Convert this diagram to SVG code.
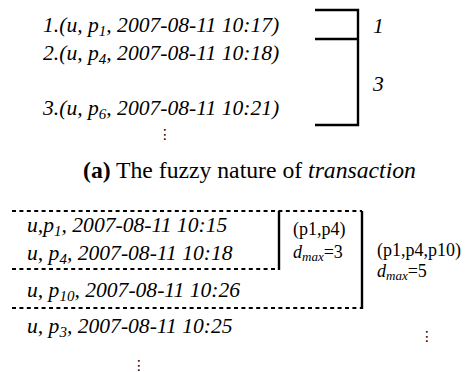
<svg xmlns="http://www.w3.org/2000/svg" width="467" height="372" viewBox="0 0 467 372">
<style>
text{font-family:'Liberation Serif','Times New Roman',serif;fill:#000}
.t{font-style:italic;font-size:21.6px}
.s{font-size:15px}
.r{font-size:18px}
.cap{font-size:23.7px}
.dots{font-family:'DejaVu Sans',sans-serif;font-size:14px;text-anchor:middle}
.solid{stroke:#000;stroke-width:2.4;fill:none}
.dash{stroke:#000;stroke-width:2.2;fill:none;stroke-dasharray:4 3.4}
</style>
<rect width="467" height="372" fill="#fff"/>
<g id="top-rows">
<text class="t" x="43" y="32">1.(u, p<tspan class="s" dy="4">1</tspan><tspan dy="-4">, 2007-08-11 10:17)</tspan></text>
<text class="t" x="43" y="60">2.(u, p<tspan class="s" dy="4">4</tspan><tspan dy="-4">, 2007-08-11 10:18)</tspan></text>
<text class="t" x="43" y="115">3.(u, p<tspan class="s" dy="4">6</tspan><tspan dy="-4">, 2007-08-11 10:21)</tspan></text>
<text class="dots" x="165" y="139">⋮</text>
</g>
<g id="bracket">
<path class="solid" d="M315,10H358V125H315M315,39H358"/>
<text class="t" x="373" y="33">1</text>
<text class="t" x="373" y="91">3</text>
</g>
<g id="caption">
<text class="cap" x="83" y="178"><tspan font-weight="bold">(a)</tspan><tspan x="116">The fuzzy nature of </tspan><tspan font-style="italic">transaction</tspan></text>
</g>
<g id="bottom-rows">
<text class="t" x="27" y="232">u,p<tspan class="s" dy="4">1</tspan><tspan dy="-4">, 2007-08-11 10:15</tspan></text>
<text class="t" x="27" y="260">u, p<tspan class="s" dy="4">4</tspan><tspan dy="-4">, 2007-08-11 10:18</tspan></text>
<text class="t" x="27" y="297">u, p<tspan class="s" dy="4">10</tspan><tspan dy="-4">, 2007-08-11 10:26</tspan></text>
<text class="t" x="27" y="333">u, p<tspan class="s" dy="4">3</tspan><tspan dy="-4">, 2007-08-11 10:25</tspan></text>
<text class="dots" x="139" y="370">⋮</text>
</g>
<g id="connectors">
<path class="dash" d="M12,211H362M12,269H279M12,308H362"/>
<path class="solid" d="M279,211V270M362,211V309"/>
</g>
<g id="group-p1p4">
<text class="r" x="293" y="235">(p1,p4)</text>
<text class="r" x="293" y="258"><tspan font-style="italic">d</tspan><tspan font-style="italic" font-size="13" dy="3">max</tspan><tspan dy="-3">=3</tspan></text>
</g>
<g id="group-p1p4p10">
<text class="r" x="377" y="256">(p1,p4,p10)</text>
<text class="r" x="377" y="277"><tspan font-style="italic">d</tspan><tspan font-style="italic" font-size="13" dy="3">max</tspan><tspan dy="-3">=5</tspan></text>
<text class="dots" x="427" y="341">⋮</text>
</g>
</svg>
